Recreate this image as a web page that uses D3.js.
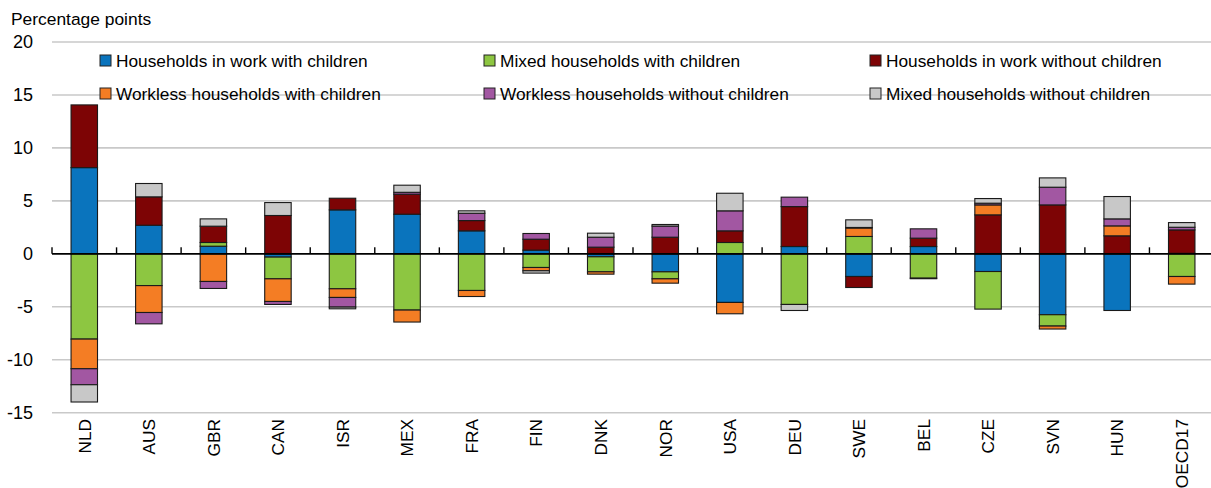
<!DOCTYPE html>
<html>
<head>
<meta charset="utf-8">
<script src="https://cdn.jsdelivr.net/npm/d3@7"></script>
<style>
  html, body { margin: 0; padding: 0; background: #fff; }
  svg { display: block; font-family: "Liberation Sans", Arial, sans-serif; }
</style>
</head>
<body>
<svg id="chart" width="1211" height="488"></svg>
<script>
const categories = ["NLD","AUS","GBR","CAN","ISR","MEX","FRA","FIN","DNK","NOR","USA","DEU","SWE","BEL","CZE","SVN","HUN","OECD17"];
const seriesNames = [
  "Households in work with children",
  "Mixed households with children",
  "Households in work without children",
  "Workless households with children",
  "Workless households without children",
  "Mixed households without children"
];
const seriesColors = ["#0a74bd", "#8dc641", "#7d0405", "#f47d24", "#a257a2", "#c8c8c8"];

const inWorkWithChildren     = [8.14, 2.70, 0.72, -0.31, 4.15, 3.74, 2.17, 0.35, -0.28, -1.70, -4.59, 0.69, -2.14, 0.69, -1.67, -5.75, -5.35, 0.05];
const mixedWithChildren      = [-8.05, -3.00, 0.35, -2.05, -3.30, -5.31, -3.46, -1.29, -1.42, -0.66, 1.07, -4.78, 1.64, -2.30, -3.55, -1.07, 0, -2.14];
const inWorkWithoutChildren  = [5.92, 2.68, 1.54, 3.62, 1.10, 1.89, 0.97, 1.03, 0.63, 1.57, 1.10, 3.77, -1.04, 0.79, 3.68, 4.62, 1.70, 2.21];
const worklessWithChildren   = [-2.80, -2.54, -2.61, -2.14, -0.82, -1.13, -0.57, -0.31, -0.22, -0.41, -1.07, 0, 0.80, 0, 0.94, -0.28, 0.94, -0.72];
const worklessWithoutChildren= [-1.51, -1.07, -0.66, -0.28, -0.91, 0.18, 0.69, 0.54, 0.94, 1.05, 1.89, 0.89, 0.05, 0.88, 0.16, 1.67, 0.66, 0.25];
const mixedWithoutChildren   = [-1.63, 1.26, 0.69, 1.22, -0.16, 0.67, 0.23, -0.22, 0.38, 0.15, 1.66, -0.57, 0.72, -0.05, 0.44, 0.88, 2.11, 0.44];

const yTicks = [-15, -10, -5, 0, 5, 10, 15, 20];

const seriesValues = [inWorkWithChildren, mixedWithChildren, inWorkWithoutChildren,
                      worklessWithChildren, worklessWithoutChildren, mixedWithoutChildren];

const rows = categories.map((c, i) => {
  const r = { cat: c };
  seriesNames.forEach((s, k) => r[s] = seriesValues[k][i]);
  return r;
});

const svg = d3.select("#chart");
const font = "Liberation Sans, Arial, sans-serif";

const x = d3.scaleBand().domain(categories).range([52, 1214]).paddingInner(0.59).paddingOuter(0.295);
const y = d3.scaleLinear().domain([-15, 20]).range([412.7, 42]);

// gridlines
svg.append("g").selectAll("line")
  .data(yTicks.filter(t => t !== 0))
  .join("line")
  .attr("x1", 52).attr("x2", 1211)
  .attr("y1", d => y(d)).attr("y2", d => y(d))
  .attr("stroke", "#c9c9c9").attr("stroke-width", 1.6);

// y labels
svg.append("g").selectAll("text")
  .data(yTicks)
  .join("text")
  .attr("x", 33).attr("y", d => y(d))
  .attr("dy", "0.36em")
  .attr("text-anchor", "end")
  .attr("font-size", 18)
  .attr("fill", "#000")
  .text(d => d);

// title
svg.append("text")
  .attr("x", 11).attr("y", 25)
  .attr("font-size", 17.4)
  .attr("fill", "#000")
  .text("Percentage points");

// legend
const legendCols = [100, 484, 870];
const legendRows = [60.5, 93.5];
const legend = svg.append("g");
seriesNames.forEach((s, k) => {
  const col = k % 3, row = Math.floor(k / 3);
  const g = legend.append("g").attr("transform", `translate(${legendCols[col]},${legendRows[row]})`);
  g.append("rect").attr("x", 0).attr("y", -5.5).attr("width", 11).attr("height", 11)
    .attr("fill", seriesColors[k]).attr("stroke", "#222").attr("stroke-width", 1);
  g.append("text").attr("x", 16).attr("y", 0).attr("dy", "0.36em")
    .attr("font-size", 17.3).attr("fill", "#000").text(s);
});

// stacked bars
const stack = d3.stack().keys(seriesNames).offset(d3.stackOffsetDiverging);
const stacked = stack(rows);

const barsG = svg.append("g");
stacked.forEach((ser, k) => {
  barsG.append("g")
    .selectAll("rect")
    .data(ser.filter(d => d[1] - d[0] !== 0))
    .join("rect")
    .attr("x", d => x(d.data.cat))
    .attr("width", x.bandwidth())
    .attr("y", d => y(d[1]))
    .attr("height", d => y(d[0]) - y(d[1]))
    .attr("fill", seriesColors[k])
    .attr("stroke", "#1a1a1a")
    .attr("stroke-width", 1.1);
});

// zero axis
svg.append("line")
  .attr("x1", 52).attr("x2", 1211)
  .attr("y1", y(0)).attr("y2", y(0))
  .attr("stroke", "#000").attr("stroke-width", 1.6);

// ticks at band boundaries
const step = x.step();
svg.append("g").selectAll("line")
  .data(d3.range(categories.length + 1))
  .join("line")
  .attr("x1", i => 52 + i * step).attr("x2", i => 52 + i * step)
  .attr("y1", y(0)).attr("y2", y(0) - 6.5)
  .attr("stroke", "#000").attr("stroke-width", 1.4);

// x labels
svg.append("g").selectAll("text")
  .data(categories)
  .join("text")
  .attr("transform", d => `translate(${x(d) + x.bandwidth() / 2},419) rotate(-90)`)
  .attr("text-anchor", "end")
  .attr("dy", "0.36em")
  .attr("font-size", 17.3)
  .attr("fill", "#000")
  .text(d => d);
</script>
</body>
</html>
